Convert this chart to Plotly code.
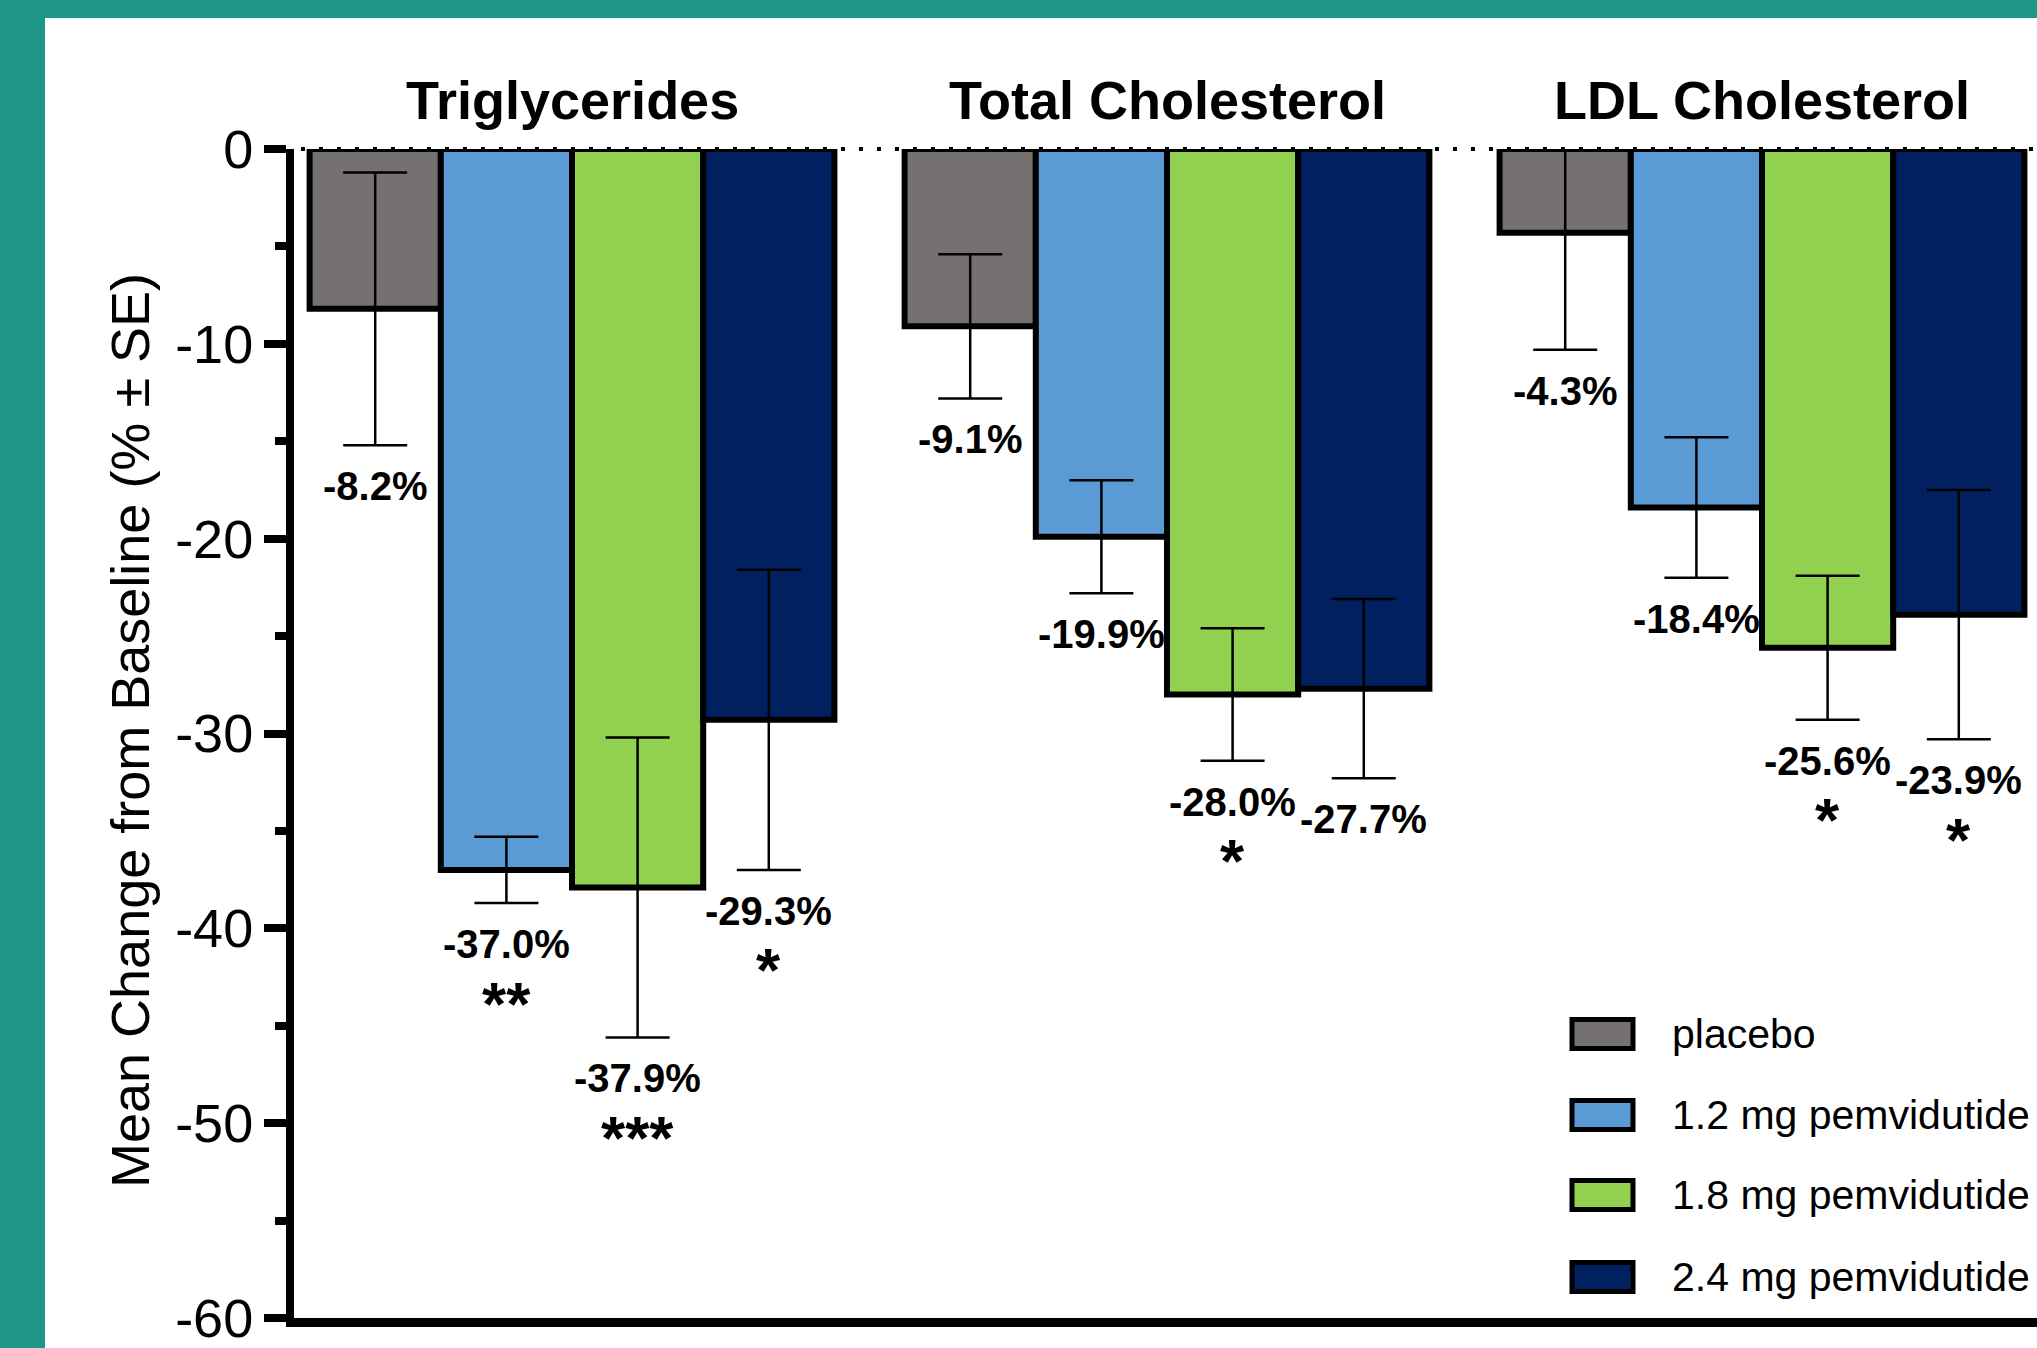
import plotly.graph_objects as go

# ---------------- data ----------------
panels = ["Triglycerides", "Total Cholesterol", "LDL Cholesterol"]
groups = ["placebo", "1.2 mg pemvidutide", "1.8 mg pemvidutide", "2.4 mg pemvidutide"]
colors = ["#767171", "#5B9BD5", "#92D050", "#002060"]

placebo_mean = [-8.2, -9.1, -4.3]
dose12_mean = [-37.0, -19.9, -18.4]
dose18_mean = [-37.9, -28.0, -25.6]
dose24_mean = [-29.3, -27.7, -23.9]

placebo_se = [7.0, 3.7, 6.0]
dose12_se = [1.7, 2.9, 3.6]
dose18_se = [7.7, 3.4, 3.7]
dose24_se = [7.7, 4.6, 6.4]

placebo_sig = ["", "", ""]
dose12_sig = ["**", "", ""]
dose18_sig = ["***", "*", "*"]
dose24_sig = ["*", "", "*"]

y_tickvals = [0, -10, -20, -30, -40, -50, -60]
y_ticktext = ["0", "-10", "-20", "-30", "-40", "-50", "-60"]
y_title = "Mean Change from Baseline (% \u00b1 SE)"

means = [placebo_mean, dose12_mean, dose18_mean, dose24_mean]
ses = [placebo_se, dose12_se, dose18_se, dose24_se]
sigs = [placebo_sig, dose12_sig, dose18_sig, dose24_sig]

# ---------------- style ----------------
FONT = "Liberation Sans Narrow, Arial Narrow, Liberation Sans, Arial, sans-serif"
W, H = 2037, 1348
ML, MR, MT, MB = 294, 0, 149, 30
PW, PH = W - ML - MR, H - MT - MB
BARGAP = 0.118
TEAL = "#1D9688"

fig = go.Figure()
for g, name in enumerate(groups):
    fig.add_trace(go.Bar(
        x=panels, y=means[g], name=name,
        marker=dict(color=colors[g], line=dict(color="black", width=6)),
        error_y=dict(type="data", array=ses[g], color="black", thickness=2.5, width=32),
        showlegend=False,
    ))

annotations = []
bar_w = (1 - BARGAP) / len(groups)
for g in range(len(groups)):
    off = (g - (len(groups) - 1) / 2) * bar_w
    for p in range(len(panels)):
        xpos = p + off
        ylow = means[g][p] - ses[g][p]
        annotations.append(dict(
            x=xpos, y=ylow, xref="x", yref="y", text=f"{means[g][p]:.1f}%",
            showarrow=False, yanchor="middle", yshift=-41,
            font=dict(family=FONT, size=40, color="black", weight="bold"),
        ))
        if sigs[g][p]:
            annotations.append(dict(
                x=xpos, y=ylow, xref="x", yref="y", text=sigs[g][p],
                showarrow=False, yanchor="middle", yshift=-100,
                font=dict(family=FONT, size=62, color="black", weight="bold"),
            ))

# panel titles
for p, t in enumerate(panels):
    annotations.append(dict(
        x=p, y=1 + 49 / PH, xref="x", yref="paper", text=t, showarrow=False,
        yanchor="middle", font=dict(family=FONT, size=54, color="black", weight="bold"),
    ))

# y-axis title
annotations.append(dict(
    x=(130 - ML) / PW, y=(H - MB - 731) / PH, xref="paper", yref="paper", text=y_title,
    showarrow=False, textangle=-90, xanchor="center", yanchor="middle",
    font=dict(family=FONT, size=54, color="black"),
))

shapes = []
# teal frame (top and left strips)
shapes.append(dict(type="rect", xref="paper", yref="paper",
                   x0=(0 - ML) / PW, x1=1.01, y0=(H - MB - 18) / PH, y1=(H - MB + 5) / PH,
                   fillcolor=TEAL, line=dict(width=0), layer="below"))
shapes.append(dict(type="rect", xref="paper", yref="paper",
                   x0=(0 - ML) / PW, x1=(45 - ML) / PW, y0=-(MB + 5) / PH, y1=(H - MB + 5) / PH,
                   fillcolor=TEAL, line=dict(width=0), layer="below"))
# dotted zero line
shapes.append(dict(type="line", xref="paper", yref="paper", x0=0.004, x1=1, y0=1, y1=1,
                   line=dict(color="black", width=4, dash="4px,14px")))

# manual legend
leg_y = [1034, 1115, 1195, 1277]
for g, name in enumerate(groups):
    yc = (H - MB - leg_y[g]) / PH
    hh = 14.5 / PH
    shapes.append(dict(type="rect", xref="paper", yref="paper",
                       x0=(1572 - ML) / PW, x1=(1633 - ML) / PW, y0=yc - hh, y1=yc + hh,
                       fillcolor=colors[g], line=dict(color="black", width=5)))
    annotations.append(dict(
        x=(1670 - ML) / PW, y=yc, xref="paper", yref="paper", text=name,
        showarrow=False, xanchor="left", yanchor="middle",
        font=dict(family=FONT, size=41, color="black"),
    ))

fig.update_layout(
    width=W, height=H,
    margin=dict(l=ML, r=MR, t=MT, b=MB, pad=0),
    paper_bgcolor="white", plot_bgcolor="white",
    barmode="group", bargap=BARGAP, bargroupgap=0,
    font=dict(family=FONT, color="black"),
    annotations=annotations, shapes=shapes,
    xaxis=dict(
        type="category", range=[-(572 - ML) / 595, (W - 572) / 595],
        showticklabels=False, ticks="", showgrid=False, zeroline=False,
        showline=True, linecolor="black", linewidth=9,
    ),
    yaxis=dict(
        range=[-60, 0], tickvals=y_tickvals, ticktext=y_ticktext,
        ticks="outside", ticklen=22, tickwidth=8, tickcolor="black",
        minor=dict(dtick=5, ticks="outside", ticklen=11, tickwidth=8, tickcolor="black"),
        tickfont=dict(family=FONT, size=54, color="black"),
        ticklabeloverflow="allow",
        showgrid=False, zeroline=False,
        showline=True, linecolor="black", linewidth=8,
    ),
)

fig.write_html("out.html", config={"displayModeBar": False},
               post_script="document.body.style.margin='0';")
